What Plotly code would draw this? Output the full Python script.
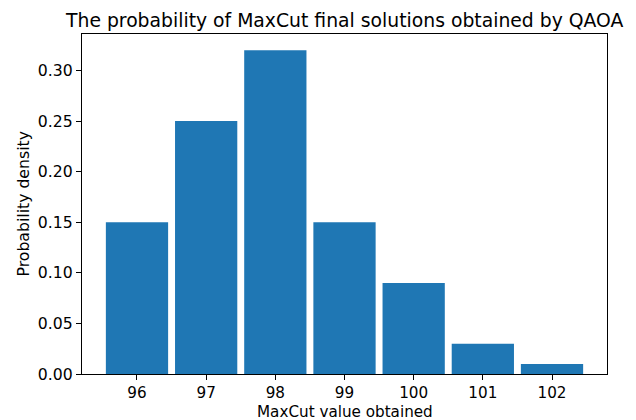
import plotly.graph_objects as go

maxcut_values = [96, 97, 98, 99, 100, 101, 102]
probability = [0.15, 0.25, 0.32, 0.15, 0.09, 0.03, 0.01]
y_ticks = [0.00, 0.05, 0.10, 0.15, 0.20, 0.25, 0.30]

title_text = "The probability of MaxCut final solutions obtained by QAOA"
x_label = "MaxCut value obtained"
y_label = "Probability density"

FONT = "DejaVu Sans"
TICK_SIZE = 15.7
TITLE_SIZE = 18.8

fig = go.Figure()
fig.add_trace(go.Bar(
    x=maxcut_values, y=probability, width=0.9,
    marker=dict(color="#1f77b4", line=dict(width=0)),
))

axis_common = dict(
    showline=True, mirror=True, linecolor="#000000", linewidth=1.2,
    ticks="outside", ticklen=5, tickwidth=1.2, tickcolor="#000000",
    showgrid=False, zeroline=False,
)

fig.update_layout(
    width=636, height=420,
    margin=dict(l=82, r=29, t=33.5, b=45.5),
    paper_bgcolor="white", plot_bgcolor="white",
    showlegend=False,
    font=dict(family=FONT, color="#000000"),
    xaxis=dict(range=[95.205, 102.795], tickvals=maxcut_values,
               ticktext=[str(v) for v in maxcut_values],
               tickfont=dict(family=FONT, size=15.2, color="#000000"),
               **axis_common),
    yaxis=dict(range=[0, 0.336], tickvals=y_ticks,
               ticktext=[f"{v:.2f}" for v in y_ticks],
               tickfont=dict(family=FONT, size=TICK_SIZE, color="#000000"),
               **axis_common),
)

fig.add_annotation(text=title_text, xref="paper", yref="paper", x=0.5, y=1,
                   xanchor="center", yanchor="middle", yshift=14, showarrow=False,
                   font=dict(family=FONT, size=TITLE_SIZE, color="#000000"))
fig.add_annotation(text=x_label, xref="paper", yref="paper", x=0.5, y=0,
                   xanchor="center", yanchor="middle", yshift=-37.5, borderpad=0,
                   showarrow=False,
                   font=dict(family=FONT, size=15.2, color="#000000"))
fig.add_annotation(text=y_label, xref="paper", yref="paper", x=0, y=0.5,
                   xanchor="center", yanchor="middle", xshift=-59.5, textangle=-90,
                   showarrow=False,
                   font=dict(family=FONT, size=TICK_SIZE, color="#000000"))

fig.write_html("out.html")
